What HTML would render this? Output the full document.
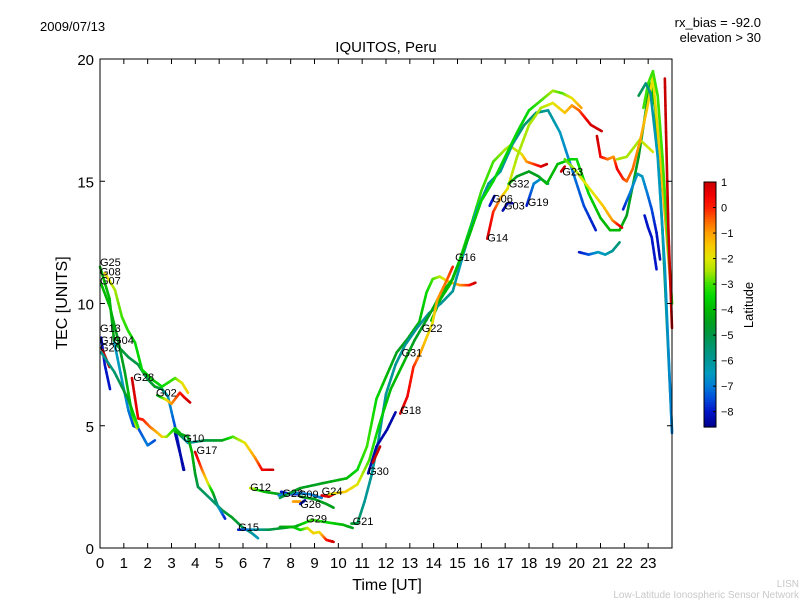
<!DOCTYPE html>
<html><head><meta charset="utf-8"><style>
body{margin:0;background:#fff;}
svg{display:block;font-family:"Liberation Sans","DejaVu Sans",sans-serif;}
</style></head><body>
<svg id="chart" width="800" height="600" viewBox="0 0 800 600">
<rect width="800" height="600" fill="#fff"/>
<text x="40" y="31" font-size="13">2009/07/13</text>
<text x="386" y="52" font-size="15" text-anchor="middle">IQUITOS, Peru</text>
<text x="761" y="27" font-size="13" text-anchor="end">rx_bias = -92.0</text>
<text x="761" y="42" font-size="13" text-anchor="end">elevation &gt; 30</text>
<g id="plot"></g>
<rect x="100" y="59" width="572" height="489" fill="none" stroke="#000" stroke-width="1"/>
<g id="axes"></g>
<text x="387" y="590" font-size="16" text-anchor="middle">Time [UT]</text>
<text x="0" y="0" font-size="16" text-anchor="middle" transform="translate(67,303) rotate(-90)">TEC [UNITS]</text>
<g id="cbar"></g>
<text x="0" y="0" font-size="13" text-anchor="middle" transform="translate(753,305) rotate(-90)">Latitude</text>
<text x="799" y="587" font-size="10" fill="#c8c8c8" text-anchor="end">LISN</text>
<text x="799" y="598" font-size="10" fill="#c8c8c8" text-anchor="end">Low-Latitude Ionospheric Sensor Network</text>
</svg>
<script>
const xTicks=[0,1,2,3,4,5,6,7,8,9,10,11,12,13,14,15,16,17,18,19,20,21,22,23];
const yTicks=[0,5,10,15,20];
const cbTicks=[1,0,-1,-2,-3,-4,-5,-6,-7,-8];
const latMin=-8.6, latMax=1.0;
const arcNames=["G08","G07","G04","G25","G19","G20r","G20","G28","G02","G10","G10b","G25d","G17","G15","G12","G22","G09","G26o","G26b","G26","G24","G29","L1","G16","G21","G31","G30b","G30","G18","G14","G06","G03","G19b","G32","Q4","Q5","Q6","Q7","Q8","Q9","Q10","Q11","G23","Q12"];
const arcT=[
[0,0.4,0.6,1.2,1.6,2.0,2.3,2.6,2.85,3.15,3.5],
[0.2,0.63,0.92,1.17,1.47,1.76,2.18,2.6,3.15,3.44,3.69],
[0.6,1.0,1.2,1.4,1.6,2.0,2.3],
[0.05,0.42,0.76,1.05,1.34,1.55],
[0.05,0.2,0.42],
[0.1,0.4],
[0.05,0.6,1.2,1.6],
[1.34,1.6,1.8,2.1,2.3,2.6,2.8,3.15,3.36],
[2.4,2.8,3.0,3.35,3.55,3.78],
[3.27,3.69,4.4,5.12,5.58,6.08,6.5,6.8,7.26],
[3.15,3.53],
[3.15,3.69,3.86,3.99,4.11,4.7,5.12,5.54,5.96,6.38,6.63],
[3.99,4.28,4.53,4.74,4.95,5.25],
[5.8,6.5,7.1,8.2,8.9,9.65,10.2,10.6],
[6.3,6.9,7.55,8.0,8.4],
[7.6,8.0,8.3],
[7.5,8.2,8.8,9.3],
[8.1,8.4],
[8.4,8.6],
[8.4,9.0,9.5,9.8],
[9.3,9.6,9.8],
[7.55,8.1,8.4,8.7,8.95,9.2,9.5,9.8],
[7.55,8.4,9.35,10.35,10.8,11.2,11.6,12.0,12.45,12.9,13.4,13.7,13.96,14.25,14.6,15.1,15.5,15.75],
[13.9,14.3,14.7,15.1,15.6,16.0,16.5,17.0,17.2,17.7,17.9,18.5,18.75],
[10.55,10.8,11.1,11.4,11.7,12.0,12.4,12.8,13.3,13.8,14.3,14.8,15.3,15.8,16.3,16.8,17.3,17.8,18.3,18.8,19.3,19.8,20.3,20.8],
[9.6,10.3,10.8,11.3,11.7,12.2,12.7,13.2,13.8,14.3,14.8,15.5,16.0,16.5,17.0,17.5,18.0,18.5,19.0,19.4,19.8,20.2],
[11.25,11.6,12.05,12.4],
[11.45,11.75],
[12.6,12.9,13.15,13.45,13.7,13.95,14.15,14.55,14.8],
[16.25,16.5,16.8,17.1,17.5,18.0,18.5,19.0,19.5,19.8,20.1,20.35,20.6,21.05],
[16.35,16.55],
[16.9,17.1,17.3],
[17.9,18.2,18.5,18.8],
[17.15,17.5,18.0,18.4,18.75,19.2,19.75,20.0,20.5,21.0,21.4,21.8,22.1,22.6,23.0,23.1,23.3,23.6,24.0],
[21.7,22.1,22.65,23.2],
[20.85,21.0,21.3,21.55,21.7,21.95,22.1,22.35,22.65,22.95,23.2,23.5,23.8,24.0],
[22.8,23.0,23.2,23.4,23.6,23.8,24.0],
[22.6,22.9,23.1,23.4,23.7,24.0],
[23.7,23.75,23.85,24.0],
[22.85,23.0,23.15,23.35],
[21.95,22.25,22.55,22.75,22.95,23.15,23.35,23.5],
[20.1,20.5,20.9,21.2,21.5,21.8],
[19.35,19.5],
[19.5,19.9,20.3,20.7,21.1,21.5,21.9]
];
const arcV=[
[11.5,10.2,8.4,7.8,7.5,6.9,6.6,6.5,6.2,4.95,3.2],
[11.25,10.55,9.45,8.9,8.4,7.3,6.9,6.6,6.95,6.75,6.35],
[8.4,6.5,5.6,5.0,4.9,4.2,4.4],
[10.8,9.85,8.5,7.15,5.5,4.9],
[8.6,7.5,6.5],
[8.1,7.4],
[8.0,7.2,6.05,4.95],
[6.95,5.3,5.25,4.95,4.8,4.55,4.55,4.9,4.7],
[6.25,6.05,5.9,6.35,6.15,5.95],
[4.7,4.3,4.4,4.4,4.55,4.3,3.7,3.2,3.2],
[4.7,3.2],
[4.75,4.55,3.9,3.05,2.5,1.95,1.55,1.25,0.86,0.6,0.4],
[3.93,3.2,2.65,2.25,1.7,1.2],
[0.75,0.75,0.75,0.88,1.15,1.03,0.95,0.82],
[2.45,2.3,2.2,2.2,2.25],
[2.3,2.2,2.2],
[2.15,2.25,2.2,2.05],
[1.9,1.9],
[1.8,1.95],
[2.1,2.0,1.8,1.65],
[2.15,2.1,2.2],
[0.86,0.86,0.74,0.82,0.61,0.65,0.33,0.25],
[2.05,2.45,2.65,2.85,3.2,4.15,6.1,7.0,8.0,8.55,9.25,10.45,11.0,11.1,10.9,10.75,10.75,10.85],
[9.3,10.2,10.8,11.8,13.3,14.6,15.8,16.3,16.45,16.1,15.8,15.6,15.7],
[1.0,1.0,1.9,3.0,4.5,6.3,7.5,8.3,9.0,9.6,10.0,10.5,12.2,13.8,14.9,15.4,16.5,17.3,17.8,17.9,17.0,15.5,14.0,13.0],
[2.2,2.3,2.6,3.6,5.0,6.5,7.5,8.5,9.5,10.4,11.0,12.8,14.2,15.0,16.0,17.0,17.9,18.3,18.7,18.6,18.4,18.0],
[3.05,4.15,4.85,5.55],
[3.5,4.15],
[5.5,6.2,7.4,8.0,8.6,9.2,10.15,10.95,11.5],
[12.65,13.75,14.3,14.7,16.0,17.3,18.0,18.2,17.8,18.1,17.9,17.6,17.3,17.05],
[14.0,14.4],
[13.8,14.1,14.1],
[14.0,14.9,15.1,14.9],
[14.9,15.2,15.4,15.2,14.9,15.7,15.9,15.9,14.5,13.5,13.0,13.0,13.6,16.0,18.5,19.0,18.0,13.0,4.8],
[15.9,16.0,16.7,16.2],
[16.85,16.0,15.9,16.0,15.5,15.1,15.0,15.5,16.6,17.95,19.25,16.0,12.5,10.0],
[18.0,19.0,19.5,18.5,16.0,13.0,10.0],
[18.5,19.0,18.6,16.0,11.5,4.7],
[19.2,17.0,13.0,9.0],
[13.6,13.1,12.7,11.4],
[13.85,14.55,15.3,15.2,14.55,13.85,12.9,11.8],
[12.1,12.0,12.1,12.0,12.15,12.5],
[15.4,15.6],
[15.9,15.5,15.0,14.5,14.0,13.4,13.1]
];
const arcLat=[
[-4,-4,-4.5,-5,-5,-5,-4.5,-5,-6.5,-7.5,-8.3],
[-1.5,-2.5,-3,-3.2,-3.5,-3.5,-3.8,-3.5,-3,-2,-1.5],
[-6.5,-6.5,-7,-7.5,-7.5,-7,-7.5],
[-4,-4,-4.5,-4.5,-3.5,-2.2],
[-8,-8,-8],
[1,1],
[-6,-5.5,-4.5,-3],
[1,0.5,0,-0.5,-1,-1.5,-2.5,-3.5,-4],
[-4.5,-2,-1,0,0.5,1],
[-4,-6.5,-5,-4.5,-3,-2,-1,0.3,1],
[-8.3,-8.3],
[-4,-4.5,-4,-4.5,-5,-5.5,-5,-4.5,-5,-6,-6.5],
[1,-0.5,-2,-4,-6,-8],
[-8,-6.5,-5,-4.5,-3,-3.5,-4,-4.5],
[-2,-4,-4.5,-8,-7],
[-8,-8,-8],
[-7,-7,-7,-7],
[-1,-1],
[-8,-8],
[-4.5,-4.5,-4.5,-4.5],
[0.8,0.8,0.8],
[-4.5,-4,-3.5,-2.5,-1.5,-2,0,1],
[-5,-4.5,-4.5,-4,-3.5,-3,-3.5,-4,-4.5,-4.5,-4,-3.5,-3,-2.5,-1.5,-1,0,1],
[-4,-4,-4,-3.5,-3.5,-3,-3,-2.5,-2.5,-2,-1,0.5,1],
[-4.5,-5,-6,-6,-6,-6,-6,-6,-6,-6,-6,-6,-6.5,-6.5,-6,-6,-6,-5.5,-5.5,-6,-6.5,-7,-7.5,-8],
[-2,-1.5,-2,-3,-3.5,-4,-4,-4.5,-4.5,-4,-4,-4,-3.5,-3.5,-3.5,-3.5,-3.5,-3,-2.5,-3,-2,-1],
[-8.3,-8.3,-8.3,-8.3],
[1,1],
[1,0.5,0,-1,-1.5,-2,-1,-0.5,0],
[1,0,-1,-2,-2.5,-2.5,-2.5,-2,-1.5,-1,-0.5,0.3,0.8,1],
[-8,-8],
[-8.3,-8.3,-8.3],
[-8,-7,-6.5,-6.5],
[-4,-4.5,-4.5,-4.5,-4,-4,-3.5,-3.5,-3.5,-4,-4,-4,-4.5,-4.5,-4.5,-4,-4,-5,-6],
[-2.5,-2.5,-2.5,-2],
[1,0.5,-0.5,-1,0.5,0,-0.5,-0.5,-1,-1.5,-2,-1.5,-1,-0.5],
[-3,-3,-3,-3,-3,-3,-3],
[-5,-5.5,-6,-6.5,-6.5,-7],
[1,1,1,1],
[-8,-8,-8,-8],
[-8,-7,-6.5,-6.5,-7,-7.5,-8,-8.3],
[-8,-7.5,-6.5,-6.5,-6,-5.5],
[1,1],
[-3,-2.5,-2,-2,-1.5,-1,0.8]
];
const labelText=["G25","G08","G07","G13","G19","G04","G20","G28","G02","G10","G17","G12","G22","G09","G26","G24","G29","G15","G21","G30","G18","G31","G22","G16","G14","G06","G03","G32","G19","G23"];
const labelT=[0,0,0,0,0,0.55,0,1.4,2.35,3.5,4.05,6.3,7.65,8.3,8.4,9.3,8.65,5.8,10.6,11.25,12.6,12.65,13.5,14.9,16.25,16.45,16.95,17.15,17.95,19.4];
const labelV=[11.7,11.3,10.95,9.0,8.5,8.5,8.2,7.0,6.35,4.5,4.0,2.5,2.25,2.2,1.8,2.33,1.2,0.86,1.1,3.15,5.65,8.0,9.0,11.9,12.7,14.3,14.0,14.9,14.15,15.4];

const X0=100,X1=672,Y0=548,Y1=59;
function xs(t){return X0+(t/24)*(X1-X0);}
function ys(v){return Y0-(v/20)*(Y0-Y1);}
// colormap stops (latitude -> rgb), styling only
const cmapStops=[[1,200,0,0],[0.5,240,0,0],[0,255,30,0],[-0.5,255,100,0],[-1,255,160,0],[-1.5,250,200,0],[-2,225,230,0],[-2.5,170,230,0],[-3,60,225,0],[-3.5,0,215,0],[-4,0,185,0],[-4.5,0,160,30],[-5,0,150,70],[-5.5,0,150,115],[-6,0,150,150],[-6.5,0,155,190],[-7,0,125,215],[-7.5,0,75,220],[-8,0,20,200],[-8.6,0,0,140]];
function jet(lat){
  if(lat>=cmapStops[0][0]){const s=cmapStops[0];return `rgb(${s[1]},${s[2]},${s[3]})`;}
  for(let i=0;i<cmapStops.length-1;i++){
    const a=cmapStops[i],b=cmapStops[i+1];
    if(lat<=a[0]&&lat>=b[0]){
      const f=(a[0]-lat)/(a[0]-b[0]);
      return `rgb(${Math.round(a[1]+(b[1]-a[1])*f)},${Math.round(a[2]+(b[2]-a[2])*f)},${Math.round(a[3]+(b[3]-a[3])*f)})`;
    }
  }
  const s=cmapStops[cmapStops.length-1];return `rgb(${s[1]},${s[2]},${s[3]})`;
}
const NS="http://www.w3.org/2000/svg";
function mk(tag,attrs,parent){const e=document.createElementNS(NS,tag);for(const k in attrs)e.setAttribute(k,attrs[k]);parent.appendChild(e);return e;}
const plot=document.getElementById('plot');
arcT.forEach((ts,i)=>{
  const g=mk('g',{},plot);
  
  
  for(let j=0;j<ts.length-1;j++){
    const n=6;
    for(let k=0;k<n;k++){
      const a=k/n,b=(k+1)/n;
      const t1=ts[j]+(ts[j+1]-ts[j])*a,t2=ts[j]+(ts[j+1]-ts[j])*b;
      const v1=arcV[i][j]+(arcV[i][j+1]-arcV[i][j])*a,v2=arcV[i][j]+(arcV[i][j+1]-arcV[i][j])*b;
      const l=arcLat[i][j]+(arcLat[i][j+1]-arcLat[i][j])*(a+b)/2;
      const s=mk('line',{x1:xs(t1),y1:ys(v1),x2:xs(t2),y2:ys(v2),stroke:jet(l),'stroke-width':2.6,'stroke-linecap':'round'},g);
      
      
    }
  }
});
labelText.forEach((txt,i)=>{
  const e=mk('text',{x:xs(labelT[i]),y:ys(labelV[i])+4,'font-size':11,fill:'#000'},plot);
  e.textContent=txt;
  
  
});
const axes=document.getElementById('axes');
xTicks.forEach(t=>{
  const x=xs(t);
  const a=mk('line',{x1:x,y1:Y0,x2:x,y2:Y0-5,stroke:'#000'},axes);
  
  
  mk('line',{x1:x,y1:Y1,x2:x,y2:Y1+5,stroke:'#000'},axes);
  const l=mk('text',{x:x,y:568,'font-size':15,'text-anchor':'middle'},axes);
  l.textContent=t;
  
  
});
yTicks.forEach(v=>{
  const y=ys(v);
  const a=mk('line',{x1:X0,y1:y,x2:X0+5,y2:y,stroke:'#000'},axes);
  
  
  mk('line',{x1:X1,y1:y,x2:X1-5,y2:y,stroke:'#000'},axes);
  const l=mk('text',{x:94,y:y+6,'font-size':15,'text-anchor':'end'},axes);
  l.textContent=v;
  
  
});
const cb=document.getElementById('cbar');
const CB0=182,CB1=427,CX=704,CW=12;
for(let i=0;i<98;i++){
  const y=CB0+i*(CB1-CB0)/98;
  const lat=latMax-(i+0.5)/98*(latMax-latMin);
  mk('rect',{x:CX,y:y,width:CW,height:(CB1-CB0)/98+0.6,fill:jet(lat)},cb);
}
mk('rect',{x:CX,y:CB0,width:CW,height:CB1-CB0,fill:'none',stroke:'#000'},cb);
function cy(l){return CB0+(latMax-l)/(latMax-latMin)*(CB1-CB0);}
cbTicks.forEach(l=>{
  const y=cy(l);
  mk('line',{x1:CX+CW-3,y1:y,x2:CX+CW,y2:y,stroke:'#000'},cb);
  const t=mk('text',{x:721,y:y+4,'font-size':11},cb);
  t.textContent=(l<0?'\u2212'+(-l):l);
  
  
});
</script>
</body></html>
